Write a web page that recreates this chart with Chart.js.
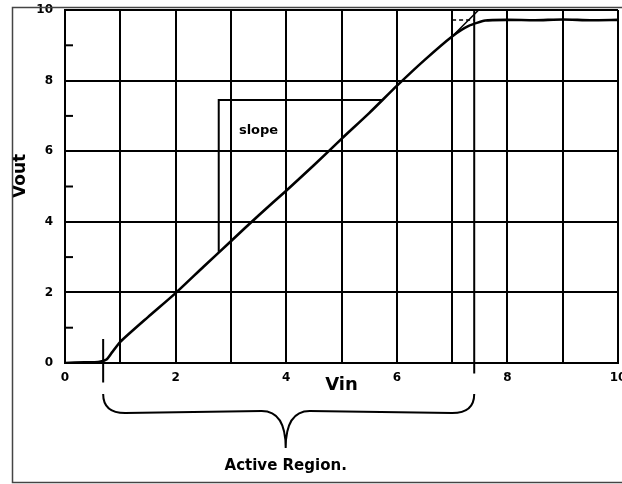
<!DOCTYPE html>
<html>
<head>
<meta charset="UTF-8">
<title>Vout vs Vin</title>
<script src="https://cdn.jsdelivr.net/npm/chart.js@4.4.1/dist/chart.umd.min.js"></script>
<style>
  body { margin: 0; background: #fff; }
  #wrap { position: absolute; left: 0; top: 0; width: 622px; height: 484px; }
</style>
</head>
<body>
<div id="wrap"><canvas id="c"></canvas></div>
<script>
// transfer curve
var vin  = [0, 0.35, 0.6, 0.75, 0.85, 1.0, 1.5, 2.0, 2.5, 3.0, 3.5, 4.0, 4.5, 5.0, 5.5, 6.0, 6.5, 7.0, 7.3, 7.6, 8.0, 8.5, 9.0, 9.5, 10];
var vout = [0, 0.02, 0.03, 0.1, 0.3, 0.6, 1.3, 1.98, 2.72, 3.45, 4.18, 4.88, 5.6, 6.35, 7.08, 7.85, 8.58, 9.25, 9.55, 9.7, 9.72, 9.71, 9.73, 9.71, 9.72];

// slope construction (vertical then horizontal leg)
var slopeX = [2.78, 2.78, 5.75];
var slopeY = [3.15, 7.45, 7.45];

// active region limits and the marker lines through them
var regionX = [0.69, 7.4];
var leftMarkY = [0.68, -0.55];
var rightMarkY = [10, -0.3];

// ideal (unclipped) continuation and clipped level
var idealX = [7.0, 7.48];
var idealY = [9.25, 10];
var clipX = [7.0, 7.4];
var clipY = [9.72, 9.72];

var xLabelled = [0, 2, 4, 6, 8, 10];
var yLabelled = [0, 2, 4, 6, 8, 10];
var yMinor = [1, 3, 5, 7, 9];
var slopeLabelAt = [3.5, 6.57];

function pts(xs, ys) {
  return xs.map(function(x, i) { return { x: x, y: ys[i] }; });
}

function line(data, extra) {
  var d = { data: data, showLine: true, borderColor: '#000', borderWidth: 2, pointRadius: 0, fill: false };
  for (var k in extra) d[k] = extra[k];
  return d;
}

var FONT = '"DejaVu Sans", "Liberation Sans", sans-serif';

var extras = {
  id: 'extras',
  beforeDraw: function(chart) {
    var ctx = chart.ctx;
    ctx.save();
    ctx.fillStyle = '#fff';
    ctx.fillRect(0, 0, chart.width, chart.height);
    ctx.restore();
  },
  afterDraw: function(chart) {
    var ctx = chart.ctx, xs = chart.scales.x, ys = chart.scales.y, a = chart.chartArea;
    ctx.save();
    ctx.strokeStyle = '#000';
    ctx.lineWidth = 2;

    // inner minor ticks on the y axis
    yMinor.forEach(function(v) {
      var py = ys.getPixelForValue(v);
      ctx.beginPath();
      ctx.moveTo(a.left, py);
      ctx.lineTo(a.left + 8, py);
      ctx.stroke();
    });

    // curly brace under the active region
    var x1 = xs.getPixelForValue(regionX[0]), x2 = xs.getPixelForValue(regionX[1]);
    var xc = (x1 + x2) / 2 - 3;
    var yTop = a.bottom + 31, yMid = a.bottom + 50, yTip = a.bottom + 85;
    ctx.beginPath();
    ctx.moveTo(x1, yTop);
    ctx.quadraticCurveTo(x1, yMid, x1 + 22, yMid);
    ctx.lineTo(xc - 24, yMid - 2);
    ctx.quadraticCurveTo(xc, yMid - 2, xc, yTip);
    ctx.quadraticCurveTo(xc, yMid - 2, xc + 24, yMid - 2);
    ctx.lineTo(x2 - 22, yMid);
    ctx.quadraticCurveTo(x2, yMid, x2, yTop);
    ctx.stroke();

    ctx.fillStyle = '#000';
    ctx.textAlign = 'center';
    ctx.textBaseline = 'middle';
    ctx.font = 'bold 15px ' + FONT;
    ctx.fillText('Active Region.', xc, a.bottom + 103);

    ctx.font = 'bold 13px ' + FONT;
    ctx.fillText('slope', xs.getPixelForValue(slopeLabelAt[0]), ys.getPixelForValue(slopeLabelAt[1]));

    // y axis title
    ctx.save();
    ctx.translate(21, a.top + (a.bottom - a.top) * 0.47);
    ctx.rotate(-Math.PI / 2);
    ctx.font = 'bold 17px ' + FONT;
    ctx.fillText('Vout', 0, 0);
    ctx.restore();

    // scanned page frame
    ctx.strokeStyle = '#444';
    ctx.lineWidth = 1.5;
    ctx.strokeRect(12.5, 7.5, chart.width, chart.height - 9);
    ctx.restore();
  }
};

function zeroPad(scale) {
  scale.paddingLeft = 0;
  scale.paddingRight = 0;
  scale.paddingTop = 0;
  scale.paddingBottom = 0;
}

new Chart(document.getElementById('c'), {
  type: 'scatter',
  data: {
    datasets: [
      line(pts(vin, vout), { borderWidth: 2.6, tension: 0.2 }),
      line(pts(slopeX, slopeY)),
      line(pts([regionX[0], regionX[0]], leftMarkY), { clip: false }),
      line(pts([regionX[1], regionX[1]], rightMarkY), { clip: false }),
      line(pts(idealX, idealY), { borderWidth: 1.5 }),
      line(pts(clipX, clipY), { borderWidth: 1.5, borderDash: [4, 3] })
    ]
  },
  options: {
    responsive: true,
    maintainAspectRatio: false,
    animation: false,
    layout: { padding: { left: 0, top: 10, right: 4, bottom: 0 } },
    plugins: { legend: { display: false }, tooltip: { enabled: false } },
    scales: {
      x: {
        type: 'linear', min: 0, max: 10,
        afterFit: function(s) { s.height = 121; zeroPad(s); },
        border: { display: true, color: '#000', width: 2 },
        grid: { color: '#000', lineWidth: 2, drawTicks: false },
        ticks: {
          stepSize: 1, autoSkip: false, maxRotation: 0, padding: 8, color: '#000',
          font: { family: FONT, size: 12, weight: 'bold' },
          callback: function(v) { return xLabelled.indexOf(v) >= 0 ? String(v) : ''; }
        },
        title: {
          display: true, text: 'Vin', color: '#000',
          font: { family: FONT, size: 18, weight: 'bold' },
          padding: { top: 0, bottom: 88 }
        }
      },
      y: {
        type: 'linear', min: 0, max: 10,
        afterFit: function(s) { s.width = 65; zeroPad(s); },
        border: { display: true, color: '#000', width: 2 },
        grid: {
          drawTicks: false, lineWidth: 2,
          color: function(c) { return c.tick && c.tick.value % 2 ? 'rgba(0,0,0,0)' : '#000'; }
        },
        ticks: {
          stepSize: 1, autoSkip: false, padding: 12, color: '#000',
          font: { family: FONT, size: 12, weight: 'bold' },
          callback: function(v) { return yLabelled.indexOf(v) >= 0 ? String(v) : ''; }
        }
      }
    }
  },
  plugins: [extras]
});
</script>
</body>
</html>
